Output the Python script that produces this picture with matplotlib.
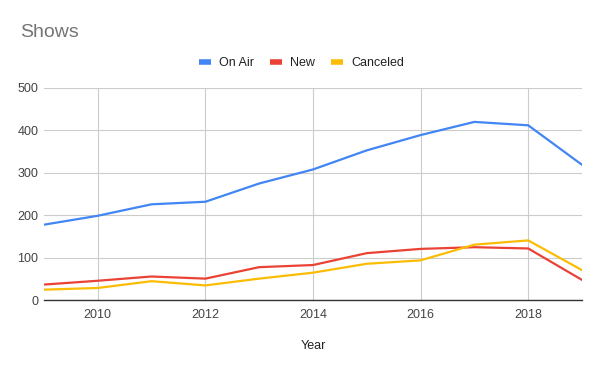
import matplotlib
matplotlib.use("Agg")
import matplotlib.pyplot as plt

years = list(range(2009, 2020))
on_air = [178, 199, 226, 232, 275, 308, 353, 389, 420, 412, 319]
new = [37, 46, 56, 51, 78, 83, 111, 121, 125, 122, 48]
canceled = [25, 29, 45, 35, 51, 65, 86, 94, 131, 141, 71]

series = [("On Air", on_air, "#4285F4"),
          ("New", new, "#EA4335"),
          ("Canceled", canceled, "#FBBC04")]

plt.rcParams['font.family'] = ['Liberation Sans', 'DejaVu Sans']

fig = plt.figure(figsize=(6, 3.71), dpi=100)
ax = fig.add_axes([0.0733, 0.1906, 0.8967, 0.5724])

for name, vals, col in series:
    ax.plot(years, vals, color=col, lw=1.6, label=name, solid_capstyle='round')

ax.set_xlim(2009, 2019)
ax.set_ylim(0, 500)
ax.set_xticks(range(2010, 2019, 2))
ax.set_yticks(range(0, 501, 100))
ax.grid(True, color="#cccccc", lw=0.8)
ax.set_axisbelow(True)
for s in ["top", "right", "left"]:
    ax.spines[s].set_visible(False)
ax.spines["bottom"].set_color("#333333")
ax.spines["bottom"].set_linewidth(1.0)
ax.spines["bottom"].set_zorder(3)
ax.tick_params(length=0, labelsize=9, labelcolor="#444444", pad=6)
ax.tick_params(axis='y', pad=4)
ax.set_xlabel("Year", fontsize=9, color="#222222", labelpad=14)

fig.text(0.033, 0.912, "Shows", fontsize=14, color="#757575", va="center")
leg = fig.legend(loc="center", bbox_to_anchor=(0.502, 0.83), ncol=3, frameon=False,
                 fontsize=9, handlelength=1.0, handletextpad=0.6, columnspacing=1.3)
for h in leg.get_lines():
    h.set_linewidth(4)
    h.set_solid_capstyle('butt')
for t in leg.get_texts():
    t.set_color("#222222")

fig.savefig("out.png", dpi=100)
